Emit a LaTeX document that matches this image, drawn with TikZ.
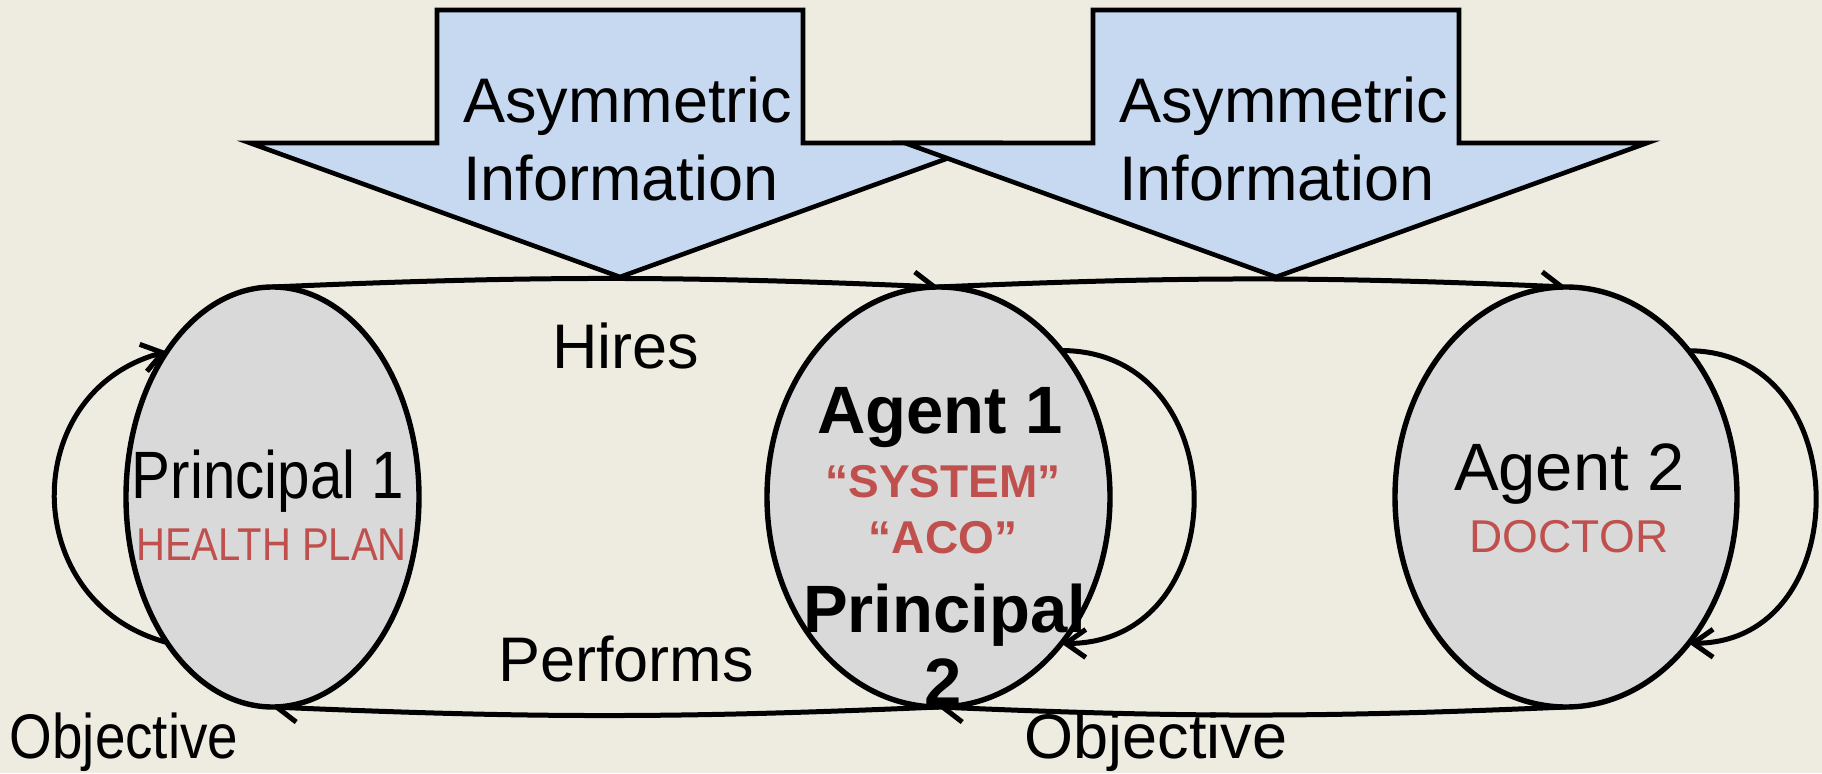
\documentclass[tikz,border=0pt]{standalone}
\usepackage{fontspec}
\setmainfont{Liberation Sans}
\newfontfamily\etroit[FakeStretch=0.87]{Liberation Sans}
\usetikzlibrary{shapes.geometric,arrows.meta,backgrounds}

\definecolor{fond}{RGB}{238,236,225}
\definecolor{bleuinfo}{RGB}{198,217,241}
\definecolor{grisnoeud}{RGB}{217,217,217}
\definecolor{rouge}{RGB}{192,80,77}

\tikzset{
  noeud/.style={ellipse, draw, fill=grisnoeud, line width=2.7pt, inner sep=0pt, outer sep=0pt, minimum height=210pt},
  info/.style={draw, fill=bleuinfo, line width=2.3pt, line join=miter},
  lien/.style={line width=2.5pt, ->},
  mot/.style={inner sep=0pt, font=\fontsize{31.5}{36}\selectfont},
  nom/.style={inner sep=0pt, font=\fontsize{33.5}{38}\selectfont},
  role/.style={inner sep=0pt, text=rouge, font=\fontsize{23}{26}\selectfont},
}

\begin{document}
\begin{tikzpicture}[x=0.5pt,y=0.5pt,>={Straight Barb[length=10pt,width=14pt]}]

\useasboundingbox (0,0) rectangle (1822,773) ;

% fleches d'information

\draw[info] (437,763) -- (437,630) -- (250,630) -- (620,496) -- (990,630) -- (803,630) -- (803,763) -- cycle ;
\draw[info] (1093,763) -- (1093,630) -- (905,630) -- (1276,496) -- (1647,630) -- (1459,630) -- (1459,763) -- cycle ;

\node[mot, anchor=base west] (asym1) at (463,650) {Asymmetric} ;
\node[mot, anchor=base west] (info1) at (463,573) {Information} ;
\node[mot, anchor=base west] (asym2) at (1119,650) {Asymmetric} ;
\node[mot, anchor=base west] (info2) at (1119,573) {Information} ;

% ellipses

\node[noeud, minimum width=146.5pt] (P1) at (272.5,276) {} ;
\node[noeud, minimum width=171.5pt] (A1) at (938.5,276) {} ;
\node[noeud, minimum width=171pt] (A2) at (1566,276) {} ;

\node[nom, anchor=base] (p1nom) at (268,275) {\etroit Principal 1} ;
\node[role, anchor=base] (p1role) at (271.5,213) {\etroit HEALTH PLAN} ;

\node[nom, anchor=base] (a1nom) at (940,340) {\bfseries Agent 1} ;
\node[role, anchor=base] (a1sys) at (943,276) {\bfseries “SYSTEM”} ;
\node[role, anchor=base] (a1aco) at (943,220) {\bfseries “ACO”} ;
\node[nom, anchor=base] (a1pr) at (944.5,141) {\bfseries Principal} ;
\node[nom, anchor=base] (a1deux) at (943,68) {\bfseries 2} ;

\node[nom, anchor=base] (a2nom) at (1569.5,283) {Agent 2} ;
\node[role, anchor=base] (a2role) at (1569,221) {DOCTOR} ;

% etiquettes

\node[mot, anchor=base] (hires) at (626,405) {Hires} ;
\node[mot, anchor=base] (perf) at (626,92) {Performs} ;
\node[mot, anchor=base] (obj1) at (124,15) {\etroit Objective} ;
\node[mot, anchor=base] (obj2) at (1156,15) {Objective} ;

% liaisons

\begin{scope}[on background layer]
\fill[fond] (0,0) rectangle (1822,773) ;
\draw[lien] (P1.north) to[bend left=2.5] (A1.north) ;
\draw[lien] (A1.north) to[bend left=2.5] (A2.north) ;
\draw[lien] (A2.south) to[bend left=2.5] (A1.south) ;
\draw[lien] (A1.south) to[bend left=2.5] (P1.south) ;
\draw[lien] (P1.234) to[out=165,in=195,looseness=1.36] (P1.126) ;
\draw[lien] (A1.50) to[out=0,in=0,looseness=1.54] (A1.310) ;
\draw[lien] (A2.50) to[out=0,in=0,looseness=1.48] (A2.310) ;
\end{scope}

\end{tikzpicture}
\end{document}
